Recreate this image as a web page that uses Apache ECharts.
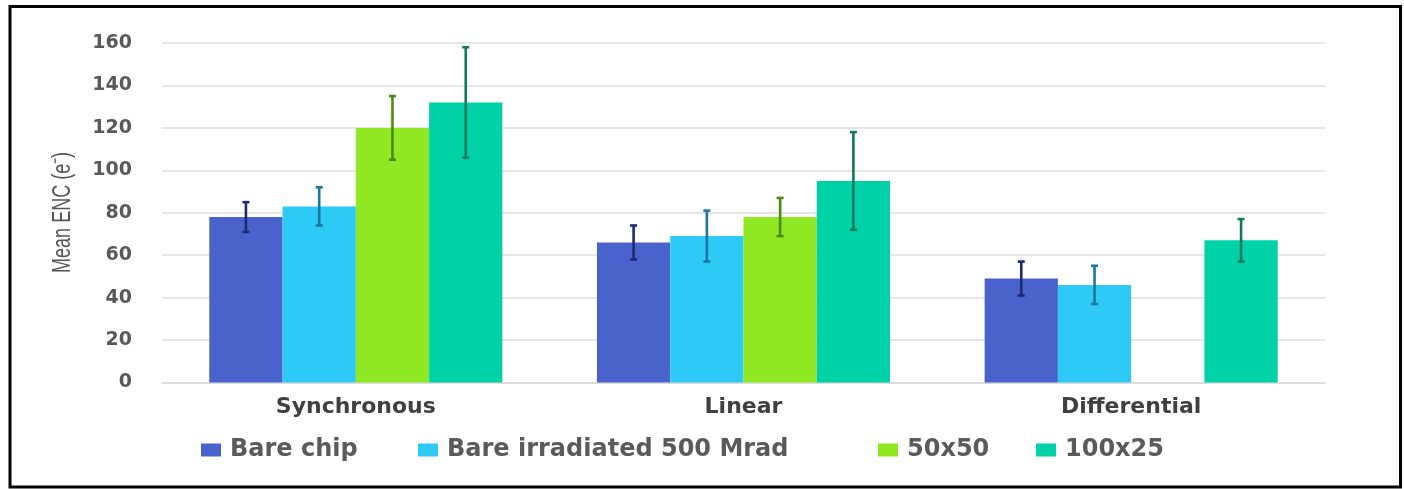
<!DOCTYPE html>
<html>
<head>
<meta charset="utf-8">
<script src="https://cdn.jsdelivr.net/npm/echarts@6/dist/echarts.min.js"></script>
<style>
  html, body { margin: 0; padding: 0; background: #fff; }
  #chart { width: 1404px; height: 489px; }
</style>
</head>
<body>
<div id="chart"></div>
<script>
// Front-end variants and mean ENC with spread
const categories = ['Synchronous', 'Linear', 'Differential'];
const seriesNames = ['Bare chip', 'Bare irradiated 500 Mrad', '50x50', '100x25'];

const bareChip = [78, 66, 49];
const bareChipErr = [7, 8, 8];
const bareIrradiated = [83, 69, 46];
const bareIrradiatedErr = [9, 12, 9];
const pitch50x50 = [120, 78, null];
const pitch50x50Err = [15, 9, null];
const pitch100x25 = [132, 95, 67];
const pitch100x25Err = [26, 23, 10];

const yTicks = { min: 0, max: 160, interval: 20 };
const yTitle = 'Mean ENC (e\u207B)';

const barColors = ['#4a62cc', '#2ccaf4', '#8fe822', '#00d2a8'];
const errColors = ['#1c2b70', '#1a77a0', '#4b8a0a', '#0e7a5c'];
const legendLefts = [196, 413, 873, 1031];

const values = [bareChip, bareIrradiated, pitch50x50, pitch100x25];
const errors = [bareChipErr, bareIrradiatedErr, pitch50x50Err, pitch100x25Err];

const CATEGORY_GAP = 0.244;
const nSeries = values.length;

function errorBarRenderer(seriesIdx) {
  return function (params, api) {
    const cat = api.value(0);
    const mean = api.value(1);
    const err = api.value(2);
    if (isNaN(mean) || isNaN(err)) return null;
    const band = api.size([1, 0])[0];
    const barW = band * (1 - CATEGORY_GAP) / nSeries;
    const center = api.coord([cat, mean]);
    const x = center[0] + (seriesIdx - (nSeries - 1) / 2) * barW;
    const yTop = api.coord([cat, mean + err])[1];
    const yBot = api.coord([cat, mean - err])[1];
    const cap = 3.5;
    const style = { stroke: errColors[seriesIdx], lineWidth: 2.6 };
    return {
      type: 'group',
      children: [
        { type: 'line', shape: { x1: x, y1: yTop, x2: x, y2: yBot }, style: style },
        { type: 'line', shape: { x1: x - cap, y1: yTop, x2: x + cap, y2: yTop }, style: style },
        { type: 'line', shape: { x1: x - cap, y1: yBot, x2: x + cap, y2: yBot }, style: style }
      ]
    };
  };
}

const series = [];
values.forEach(function (vals, i) {
  series.push({
    name: seriesNames[i],
    type: 'bar',
    data: vals.map(function (v) { return v == null ? '-' : v; }),
    itemStyle: { color: barColors[i] },
    barGap: '0%',
    barCategoryGap: (CATEGORY_GAP * 100) + '%',
    silent: true
  });
});
values.forEach(function (vals, i) {
  series.push({
    name: seriesNames[i],
    type: 'custom',
    renderItem: errorBarRenderer(i),
    data: vals.map(function (v, k) {
      return v == null ? [k, '-', '-'] : [k, v, errors[i][k]];
    }),
    encode: { x: 0, y: [1, 2] },
    z: 10,
    silent: true
  });
});

// one legend per series so each entry sits at its own position
const legends = seriesNames.map(function (name, i) {
  return {
    data: [name],
    left: legendLefts[i],
    top: 433,
    itemWidth: 20,
    itemHeight: 13,
    icon: 'rect',
    selectedMode: false,
    textStyle: {
      color: '#5a5a5a', fontSize: 24, fontWeight: 'bold', fontFamily: 'DejaVu Sans',
      padding: [0, 0, 0, 4]
    }
  };
});

const chart = echarts.init(document.getElementById('chart'));
chart.setOption({
  animation: false,
  backgroundColor: '#ffffff',
  grid: { left: 162, right: 79, top: 43, bottom: 106.5 },
  legend: legends,
  xAxis: {
    type: 'category',
    data: categories,
    axisTick: { show: false },
    axisLine: { lineStyle: { color: '#d9d9d9', width: 1.5 } },
    axisLabel: { color: '#404040', fontSize: 22, fontWeight: 'bold', fontFamily: 'DejaVu Sans', margin: 14 }
  },
  yAxis: {
    type: 'value',
    min: yTicks.min,
    max: yTicks.max,
    interval: yTicks.interval,
    axisLine: { show: false },
    axisTick: { show: false },
    splitLine: { lineStyle: { color: '#dcdcdc', width: 1.5 } },
    axisLabel: { color: '#595959', fontSize: 19, fontWeight: 'bold', fontFamily: 'DejaVu Sans', margin: 30 }
  },
  graphic: [
    {
      // condensed, rotated axis title
      type: 'text',
      x: 63,
      y: 212.5,
      rotation: Math.PI / 2,
      scaleX: 0.72,
      style: {
        text: yTitle,
        fill: '#555555',
        fontSize: 25,
        fontFamily: 'Liberation Sans',
        align: 'center',
        verticalAlign: 'middle'
      },
      silent: true
    },
    {
      type: 'rect',
      shape: { x: 10, y: 6.5, width: 1390.5, height: 480.5 },
      style: { fill: 'none', stroke: '#000', lineWidth: 3 },
      silent: true,
      z: 100
    }
  ],
  series: series
});
</script>
</body>
</html>
